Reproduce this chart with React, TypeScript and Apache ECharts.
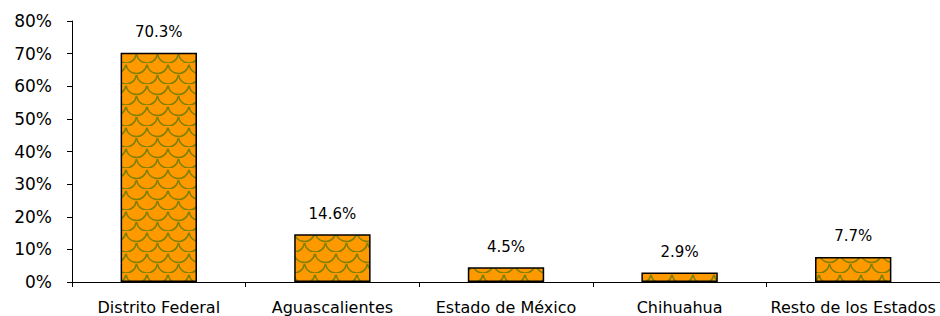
import React, { useEffect, useRef } from "react";
import * as echarts from "echarts";

const categories = ["Distrito Federal", "Aguascalientes", "Estado de México", "Chihuahua", "Resto de los Estados"];
const shares = [0.703, 0.146, 0.045, 0.029, 0.077];
const yTicks = [0, 0.1, 0.2, 0.3, 0.4, 0.5, 0.6, 0.7, 0.8];

function makePattern(): string {
  const w = 21, h = 21;
  const c = document.createElement("canvas");
  c.width = w; c.height = h;
  const ctx = c.getContext("2d")!;
  ctx.fillStyle = "#FF9900";
  ctx.fillRect(0, 0, w, h);
  ctx.strokeStyle = "#808000";
  ctx.lineWidth = 1.6;
  const r = w / 2;
  const arcs = [
    [r, 0], [0, r], [w, r], [r, h],
  ];
  for (const [cx, cy] of arcs) {
    ctx.beginPath();
    ctx.arc(cx, cy, r, 0.05 * Math.PI, 0.95 * Math.PI);
    ctx.stroke();
  }
  return c.toDataURL();
}

export default function App() {
  const ref = useRef<HTMLDivElement>(null);
  useEffect(() => {
    if (!ref.current) return;
    const chart = echarts.init(ref.current, null, { renderer: "svg" });
    const font = "'DejaVu Sans', sans-serif";
    const pattern = { image: makePattern(), repeat: "repeat" } as any;
    chart.setOption({
      animation: false,
      backgroundColor: "#ffffff",
      grid: { left: 72, top: 21, bottom: 34, width: 873, containLabel: false },
      xAxis: {
        type: "category",
        data: categories,
        boundaryGap: true,
        axisLine: { lineStyle: { color: "#000", width: 1 } },
        axisTick: { show: true, length: 5, lineStyle: { color: "#000" } },
        axisLabel: { color: "#000", fontSize: 16, fontFamily: font, margin: 17, interval: 0 },
      },
      yAxis: {
        type: "value",
        min: 0,
        max: yTicks[yTicks.length - 1],
        interval: 0.1,
        splitLine: { show: false },
        axisLine: { show: true, lineStyle: { color: "#000", width: 1 } },
        axisTick: { show: true, length: 5, lineStyle: { color: "#000" } },
        axisLabel: {
          color: "#000",
          fontSize: 17,
          fontFamily: font,
          margin: 20,
          formatter: (v: number) => `${Math.round(v * 100)}%`,
        },
      },
      series: [
        {
          type: "bar",
          data: shares,
          barWidth: "44%",
          itemStyle: { color: pattern, borderColor: "#000", borderWidth: 1.5 },
          label: {
            show: true,
            position: "top",
            distance: 13,
            color: "#000",
            fontSize: 15,
            fontFamily: font,
            formatter: (p: any) => `${(p.value * 100).toFixed(1)}%`,
          },
        },
      ],
    });
    return () => chart.dispose();
  }, []);
  return <div ref={ref} style={{ width: 940, height: 316, position: "absolute", left: 0, top: 0 }} />;
}
